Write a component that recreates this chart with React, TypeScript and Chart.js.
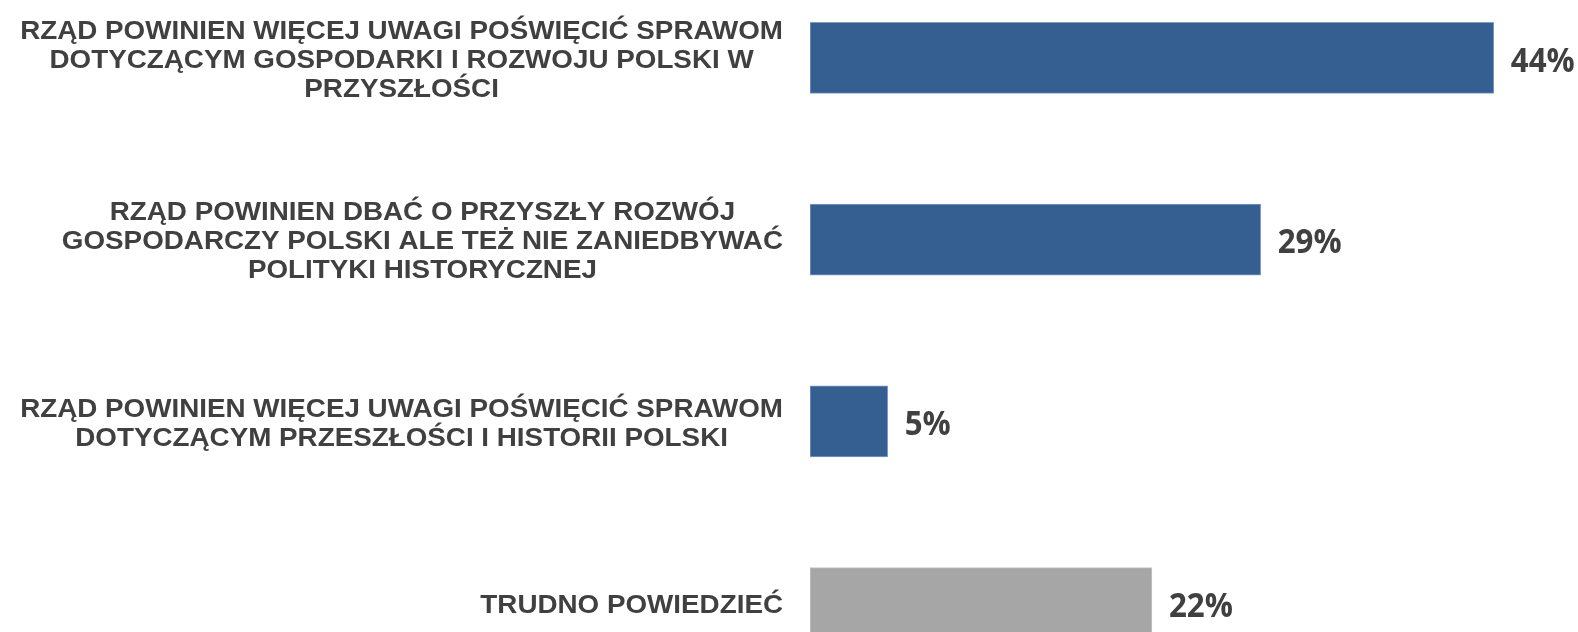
import React, { useEffect, useRef } from "react";
import { Chart, registerables } from "chart.js";

Chart.register(...registerables);

// ---- data ----
const categories: string[][] = [
  ["RZĄD POWINIEN WIĘCEJ UWAGI POŚWIĘCIĆ SPRAWOM", "DOTYCZĄCYM GOSPODARKI I ROZWOJU POLSKI W", "PRZYSZŁOŚCI"],
  ["RZĄD POWINIEN DBAĆ O PRZYSZŁY ROZWÓJ", "GOSPODARCZY POLSKI ALE TEŻ NIE ZANIEDBYWAĆ", "POLITYKI HISTORYCZNEJ"],
  ["RZĄD POWINIEN WIĘCEJ UWAGI POŚWIĘCIĆ SPRAWOM", "DOTYCZĄCYM PRZESZŁOŚCI I HISTORII POLSKI"],
  ["TRUDNO POWIEDZIEĆ"],
];
const values: number[] = [44, 29, 5, 22];
const barColors: string[] = ["#365F91", "#365F91", "#365F91", "#A6A6A6"];
const barBorders: string[] = ["#7E9CC6", "#7E9CC6", "#7E9CC6", "#C4C4C4"];
const xMax = 50;

const TEXT = "#404040";
const CAT_FONT_PX = 25.5;
const CAT_STRETCH = 1.09;
const CAT_LINE_H = 29;
const VAL_FONT_PX = 34;
const VAL_STRETCH = 0.92;

const labelPlugin = {
  id: "customLabels",
  afterDatasetsDraw(chart: any) {
    const ctx = chart.ctx;
    const yScale = chart.scales.y;
    const meta = chart.getDatasetMeta(0);
    ctx.save();
    ctx.fillStyle = TEXT;
    ctx.textBaseline = "alphabetic";
    // category labels: block right-aligned to the axis, lines centered inside
    ctx.font = `bold ${CAT_FONT_PX}px "Liberation Sans", Arial, sans-serif`;
    ctx.textAlign = "center";
    const capHalf = (CAT_FONT_PX * 0.716) / 2;
    categories.forEach((lines, i) => {
      const cy = yScale.getPixelForValue(i);
      const widest = Math.max(...lines.map((l) => ctx.measureText(l).width)) * CAT_STRETCH;
      const cx = chart.chartArea.left - 27 - widest / 2;
      lines.forEach((l, j) => {
        const ly = cy + (j - (lines.length - 1) / 2) * CAT_LINE_H + 0.5;
        ctx.save();
        ctx.translate(cx, ly + capHalf);
        ctx.scale(CAT_STRETCH, 1);
        ctx.fillText(l, 0, 0);
        ctx.restore();
      });
    });
    // value labels
    ctx.font = `bold ${VAL_FONT_PX}px "Open Sans", sans-serif`;
    ctx.textAlign = "left";
    const vCapHalf = (VAL_FONT_PX * 0.714) / 2;
    meta.data.forEach((bar: any, i: number) => {
      ctx.save();
      ctx.translate(bar.x + 17, bar.y + 1.5 + vCapHalf);
      ctx.scale(VAL_STRETCH, 1);
      ctx.fillText(values[i] + "%", 0, 0);
      ctx.restore();
    });
    ctx.restore();
  },
};

export default function App() {
  const ref = useRef<HTMLCanvasElement | null>(null);
  useEffect(() => {
    if (!ref.current) return;
    const chart = new Chart(ref.current, {
      type: "bar",
      data: {
        labels: categories.map((c) => c.join(" ")),
        datasets: [
          {
            data: values,
            backgroundColor: barColors,
            borderColor: barBorders,
            borderWidth: 1,
            borderSkipped: false,
            barThickness: 71,
          },
        ],
      },
      options: {
        indexAxis: "y",
        animation: false,
        responsive: false,
        maintainAspectRatio: false,
        layout: { padding: 0 },
        plugins: {
          legend: { display: false },
          tooltip: { enabled: false },
          title: { display: false },
        },
        scales: {
          x: {
            display: false,
            min: 0,
            max: xMax,
          },
          y: {
            grid: { display: false },
            border: { display: false },
            ticks: { display: false },
            afterFit(scale: any) {
              scale.width = 810;
            },
          },
        },
      },
      plugins: [labelPlugin],
    });
    return () => chart.destroy();
  }, []);

  return (
    <div
      style={{
        position: "fixed",
        left: 0,
        top: 0,
        width: 1578,
        height: 632,
        overflow: "hidden",
        background: "#ffffff",
      }}
    >
      <div style={{ position: "absolute", left: 0, top: -33, width: 1587, height: 727 }}>
        <canvas ref={ref} width={1587} height={727} style={{ display: "block" }} />
      </div>
    </div>
  );
}
